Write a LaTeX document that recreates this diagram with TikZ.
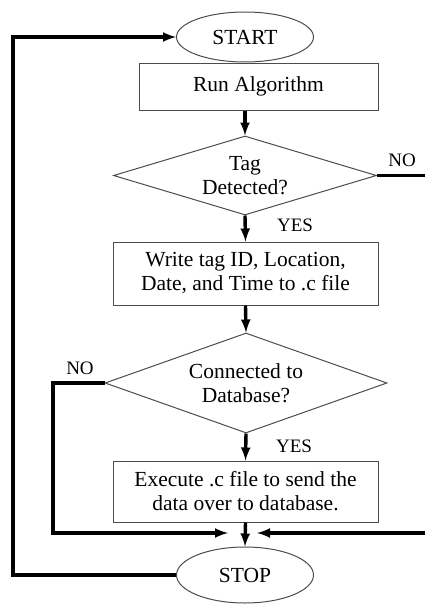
\documentclass[tikz,border=0pt]{standalone}
\usepackage{fontspec}
\setmainfont{Liberation Serif}
\usetikzlibrary{shapes.geometric}

\tikzset{
  box/.style={draw=black!70, line width=1pt, rectangle, align=center, inner sep=0pt,
    font=\fontsize{21.5}{24}\selectfont},
  term/.style={draw=black!70, line width=1pt, ellipse, inner sep=0pt,
    font=\fontsize{21.5}{24}\selectfont},
  decide/.style={draw=black!70, line width=1pt, diamond, aspect=3, align=center, inner sep=0pt,
    font=\fontsize{21.5}{24}\selectfont},
  flow/.style={->, >=latex, line width=3.4pt},
  branch/.style={font=\fontsize{19}{20}\selectfont}
}

\begin{document}
\begin{tikzpicture}[x=1pt,y=-1pt]
    \useasboundingbox (0,0) rectangle (425,605);

    % steps
    \node[term, minimum width=137pt, minimum height=50pt] (start) at (245,37) {START};
    \node[box, minimum width=239pt, minimum height=47pt] (run) at (258.5,86.5) {Run Algorithm};
    \node[decide, minimum width=263pt, minimum height=79pt] (tag) at (245,175.5) {Tag\\Detected?};
    \node[box, minimum width=265pt, minimum height=63pt] (write) at (245.5,273.5) {Write tag ID, Location,\\Date, and Time to .c file};
    \node[decide, minimum width=282pt, minimum height=100pt] (conn) at (246,383) {Connected to\\Database?};
    \node[box, minimum width=265pt, minimum height=61pt] (exec) at (245.5,491.5) {Execute .c file to send the\\data over to database.};
    \node[term, minimum width=137pt, minimum height=56pt] (stop) at (245,575) {STOP};

    % free ends
    \coordinate (tagout) at (425,175.5);
    \coordinate (rightin) at (425,533);
    \coordinate (mergeL) at (228,533);
    \coordinate (mergeR) at (257,533);

    \draw[flow] (tag.north |- run.south) -- (tag.north);
    \draw[flow] (tag.south) -- (write.north);
    \draw[flow] (write.south) -- (conn.north);
    \draw[flow] (conn.south) -- (exec.north);
    \draw[flow] (exec.south) -- (stop.north);

    \draw[line width=3.4pt] (tag.east) -- (tagout);
    \draw[flow] (rightin) -- (mergeR);
    \draw[flow] (conn.west) -- (53,383) |- (mergeL);
    \draw[flow] (stop.west) -- (13,575) |- (start.west);

    \node[branch] (no1) at (402,160) {NO};
    \node[branch] (yes1) at (295,225) {YES};
    \node[branch] (no2) at (80,368) {NO};
    \node[branch] (yes2) at (294,446) {YES};
\end{tikzpicture}
\end{document}
